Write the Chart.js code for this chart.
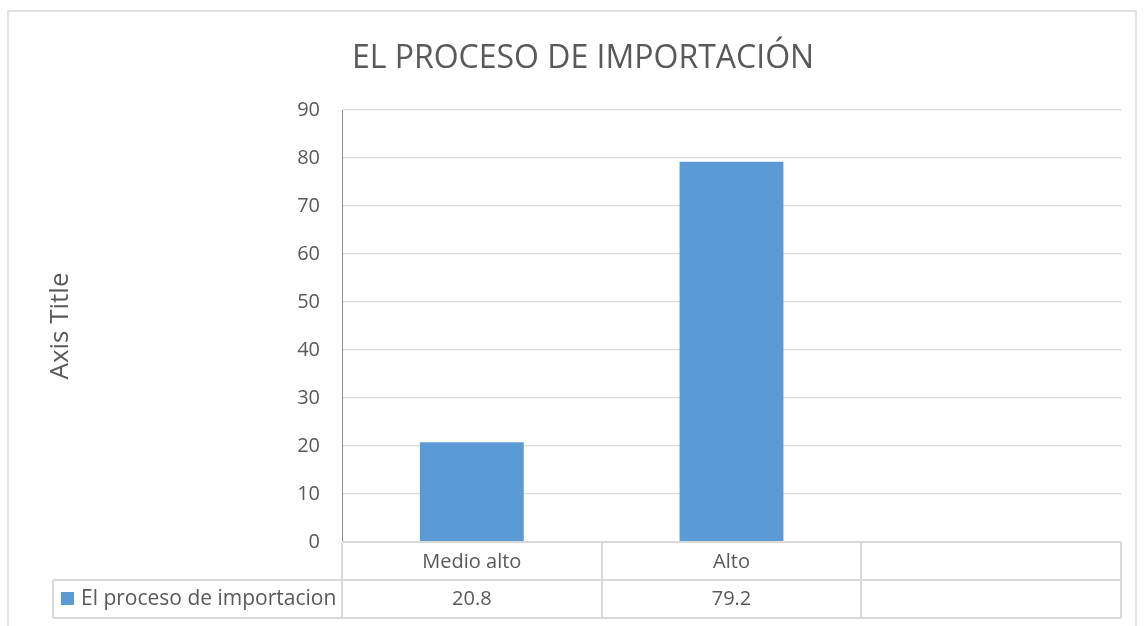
<!DOCTYPE html>
<html><head><meta charset="utf-8">
<script src="https://cdn.jsdelivr.net/npm/chart.js@4/dist/chart.umd.min.js"></script>
<style>html,body{margin:0;padding:0;background:#fff;}#wrap{width:1144px;height:626px;}</style>
</head><body><div id="wrap"><canvas id="c" width="1144" height="626"></canvas></div>
<script>
const chartTitle = "EL PROCESO DE IMPORTACIÓN";
const axisTitle = "Axis Title";
const categories = ["Medio alto", "Alto", ""];
const seriesName = "El proceso de importacion";
const seriesValues = [20.8, 79.2, null];
const tableValues = ["20.8", "79.2", ""];
const yMin = 0, yMax = 90, yStep = 10;

const TXT = "#595959", GRID = "#d9d9d9", BAR = "#5b9bd5";
const FONT = "'Open Sans', 'Liberation Sans', sans-serif";
Chart.defaults.font.family = FONT;
Chart.defaults.color = TXT;

const tablePlugin = {
  id: 'dataTable',
  beforeDraw(chart) {
    const ctx = chart.ctx;
    ctx.save();
    ctx.fillStyle = '#fff';
    ctx.fillRect(0, 0, chart.width, chart.height);
    ctx.strokeStyle = GRID; ctx.lineWidth = 1.5;
    ctx.strokeRect(8, 11, 1128, 700);
    ctx.restore();
  },
  afterDraw(chart) {
    const ctx = chart.ctx, ca = chart.chartArea, xs = chart.scales.x;
    const n = categories.length;
    const cw = (ca.right - ca.left) / n;
    const row1Top = ca.bottom, row2Top = ca.bottom + 38, row2Bot = ca.bottom + 76;
    const legendLeft = 53;
    ctx.save();
    ctx.strokeStyle = GRID; ctx.lineWidth = 2;
    ctx.beginPath();
    ctx.moveTo(ca.left, row1Top); ctx.lineTo(ca.right, row1Top);
    ctx.moveTo(legendLeft, row2Top); ctx.lineTo(ca.right, row2Top);
    ctx.moveTo(legendLeft, row2Bot); ctx.lineTo(ca.right, row2Bot);
    ctx.moveTo(legendLeft, row2Top); ctx.lineTo(legendLeft, row2Bot);
    for (let i = 0; i <= n; i++) {
      const x = Math.round(ca.left + i * cw);
      ctx.moveTo(x, i === 0 ? row1Top + 1 : row1Top); ctx.lineTo(x, row2Bot);
    }
    ctx.stroke();
    const midY = (row2Top + row2Bot) / 2;
    ctx.fillStyle = BAR;
    ctx.fillRect(61, midY - 7, 13, 13);
    ctx.fillStyle = TXT;
    ctx.font = "21px " + FONT;
    ctx.textBaseline = 'middle';
    ctx.textAlign = 'left';
    ctx.fillText(seriesName, 81, midY);
    ctx.font = "20px " + FONT;
    ctx.textAlign = 'center';
    for (let i = 0; i < n; i++) {
      ctx.fillText(tableValues[i], xs.getPixelForValue(i), midY);
    }
    ctx.restore();
  }
};

new Chart(document.getElementById('c'), {
  type: 'bar',
  data: {
    labels: categories,
    datasets: [{
      label: seriesName,
      data: seriesValues,
      backgroundColor: BAR,
      borderWidth: 0,
      categoryPercentage: 1.0,
      barPercentage: 0.4
    }]
  },
  options: {
    responsive: false,
    animation: false,
    layout: { padding: { top: 11, left: 45, right: 23, bottom: 8 } },
    plugins: {
      legend: { display: false },
      tooltip: { enabled: false },
      title: {
        display: true, text: chartTitle, color: TXT,
        font: { size: 32, weight: 'normal', family: FONT },
        padding: { top: 29, bottom: 31.6 }
      }
    },
    scales: {
      x: {
        grid: { display: false, drawTicks: false },
        border: { display: false },
        ticks: { font: { size: 20 }, color: TXT, padding: 8, maxRotation: 0 },
        afterFit(s) { s.height = 76; }
      },
      y: {
        min: yMin, max: yMax,
        grid: { color: GRID, lineWidth: 1.2, drawTicks: false },
        border: { display: true, color: '#8c8c8c', width: 1 },
        ticks: { stepSize: yStep, font: { size: 20 }, color: TXT, padding: 22 },
        title: { display: true, text: axisTitle, color: TXT, font: { size: 26 }, padding: { top: 0, bottom: 0 } },
        afterFit(s) { s.width = 297; }
      }
    }
  },
  plugins: [tablePlugin]
});
</script></body></html>
